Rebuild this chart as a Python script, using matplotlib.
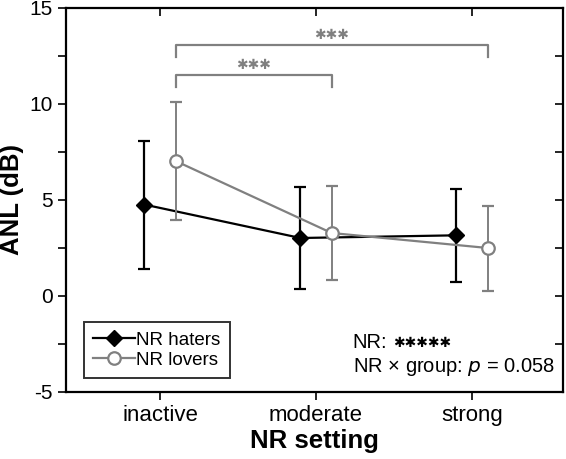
import numpy as np
import matplotlib.pyplot as plt
from matplotlib.lines import Line2D
from matplotlib.ticker import MultipleLocator

plt.rcParams['font.family'] = ['Liberation Sans', 'DejaVu Sans']
plt.rcParams['axes.unicode_minus'] = False

settings = ['inactive', 'moderate', 'strong']
haters_mean = [4.76, 3.02, 3.16]
haters_hi = [8.08, 5.67, 5.59]
haters_lo = [1.41, 0.35, 0.75]
lovers_mean = [7.03, 3.28, 2.50]
lovers_hi = [10.09, 5.72, 4.71]
lovers_lo = [3.94, 0.82, 0.28]

# significance brackets (from, to, height)
brackets = [(0, 1, 11.5), (0, 2, 13.05)]
offset = 0.1
grey = '#808080'
star = '\u2731'

x = np.arange(len(settings))
hm = np.array(haters_mean)
lm = np.array(lovers_mean)

fig = plt.figure(figsize=(5.66, 4.59), dpi=100)
ax = fig.add_axes([0.1166, 0.146, 0.8781, 0.8366])

ax.errorbar(x - offset, hm, yerr=[hm - np.array(haters_lo), np.array(haters_hi) - hm],
            color='black', marker='D', markersize=8.5, mfc='black', mec='black',
            lw=1.6, elinewidth=1.6, capsize=4.5, capthick=1.6, zorder=3)
ax.errorbar(x + offset, lm, yerr=[lm - np.array(lovers_lo), np.array(lovers_hi) - lm],
            color=grey, marker='o', markersize=9, mfc='white', mec=grey, mew=1.6,
            lw=1.6, elinewidth=1.4, capsize=4.5, capthick=1.4, zorder=4)

for a, b, h in brackets:
    xa, xb = a + offset, b + offset
    ax.plot([xa, xa, xb, xb], [h - 0.6, h, h, h - 0.6], color=grey, lw=1.6)
    ax.text((xa + xb) / 2, h + 0.55, star * 3, color=grey, ha='center', va='center',
            fontsize=10, family='DejaVu Sans')

ax.set_xlim(-0.603, 2.583)
ax.set_ylim(-5, 15)
ax.set_xticks(x)
ax.set_xticklabels(settings, fontsize=16)
ax.yaxis.set_major_locator(MultipleLocator(5))
ax.yaxis.set_minor_locator(MultipleLocator(2.5))
ax.tick_params(axis='y', labelsize=15, length=6, width=1.2)
ax.tick_params(axis='y', which='minor', length=6, width=1.2)
ax.tick_params(axis='x', length=6, width=1.2)
ax.tick_params(axis='both', which='both', right=True, top=True)
for t in ax.yaxis.get_major_ticks() + ax.yaxis.get_minor_ticks():
    t.tick2line.set_marker(0)
for t in ax.xaxis.get_major_ticks():
    t.tick2line.set_marker(3)
for s in ax.spines.values():
    s.set_linewidth(1.6)

ax.set_xlabel('NR setting', fontsize=18.5, fontweight='bold', labelpad=2)
ax.set_ylabel('ANL (dB)', fontsize=18.5, fontweight='bold', labelpad=4)

handles = [Line2D([], [], color='black', marker='D', markersize=8.5, lw=1.6),
           Line2D([], [], color=grey, marker='o', markersize=9, mfc='white', mew=1.6, lw=1.6)]
leg = ax.legend(handles, ['NR haters', 'NR lovers'], loc='lower left',
                bbox_to_anchor=(0.036, 0.036), fontsize=13.5,
                frameon=True, fancybox=False, edgecolor='black', handlelength=2.2,
                handletextpad=0.1, borderpad=0.5, labelspacing=0.15, borderaxespad=0)
leg.get_frame().set_linewidth(1.4)

ax.text(0.577, 0.130, 'NR:', transform=ax.transAxes, fontsize=14.5, va='center')
ax.text(0.659, 0.127, star * 5, transform=ax.transAxes, fontsize=10, va='center',
        family='DejaVu Sans')
ax.text(0.577, 0.065, 'NR \u00d7 group: $p$ = 0.058', transform=ax.transAxes,
        fontsize=14.5, va='center')

fig.savefig('out.png', dpi=100)
